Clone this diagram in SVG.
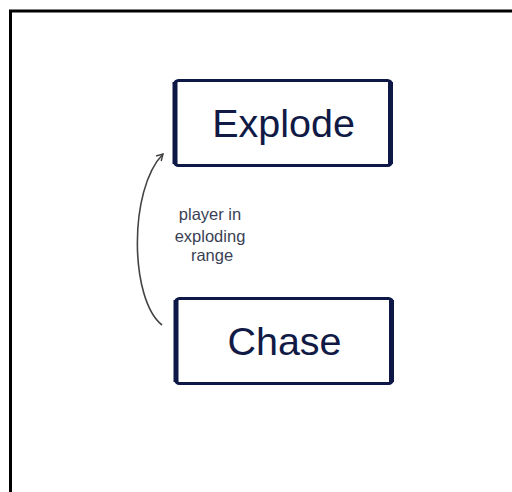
<svg xmlns="http://www.w3.org/2000/svg" width="512" height="492" viewBox="0 0 512 492">
<style>
.box{fill:#fff;stroke:#0e1846;stroke-width:3;}
.side{stroke:#0e1846;stroke-width:5;}
.lbl{font-family:"Liberation Sans",Arial,sans-serif;font-size:39.5px;fill:#111a45;text-anchor:middle;}
.cond{font-family:"Liberation Sans",Arial,sans-serif;font-size:16.5px;fill:#3a3f55;text-anchor:middle;}
.conn{fill:none;stroke:#444;stroke-width:1.6;}
</style>
<defs>
<marker id="ah" viewBox="0 0 10 10" refX="8" refY="5" markerWidth="9" markerHeight="9" orient="auto" markerUnits="userSpaceOnUse">
<path d="M1,1 L8,5 L1,9" fill="none" stroke="#444" stroke-width="1.6"/>
</marker>
</defs>
<rect width="512" height="492" fill="#fff"/>
<path d="M10.5,492 V11 H512" fill="none" stroke="#000" stroke-width="3"/>
<g id="explode">
<rect class="box" x="174.5" y="80.5" width="217" height="85" rx="4"/>
<line class="side" x1="175" y1="82" x2="175" y2="164"/>
<line class="side" x1="390.5" y1="82" x2="390.5" y2="164"/>
<text class="lbl" x="283.5" y="137">Explode</text>
</g>
<g id="chase">
<rect class="box" x="175.5" y="298.5" width="217" height="85" rx="4"/>
<line class="side" x1="176" y1="300" x2="176" y2="382"/>
<line class="side" x1="391.5" y1="300" x2="391.5" y2="382"/>
<text class="lbl" x="284.5" y="355">Chase</text>
</g>
<g id="connectors">
<path class="conn" d="M162,325 C130,300 128,190 163,154" marker-end="url(#ah)"/>
<text class="cond" x="210" y="220">player in</text>
<text class="cond" x="210" y="242">exploding</text>
<text class="cond" x="212" y="261">range</text>
</g>
</svg>
